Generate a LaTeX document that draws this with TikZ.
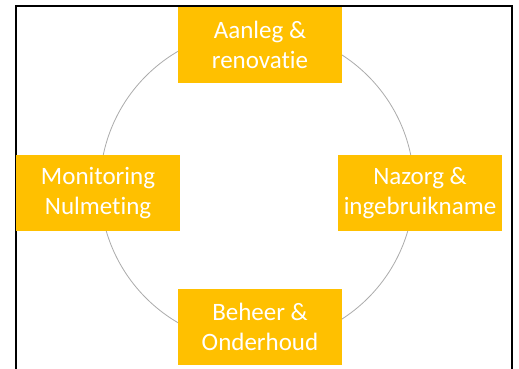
\documentclass[tikz,border=0pt]{standalone}
\usepackage{fontspec}
\setmainfont{Carlito}[Ligatures=NoCommon]
\usetikzlibrary{positioning}
\definecolor{phasegold}{HTML}{FFC000}
\definecolor{ringgray}{HTML}{ABABAB}

\begin{document}
\begin{tikzpicture}[x=1pt,y=-1pt,
    phase/.style={fill=phasegold,text=white,minimum width=164pt,minimum height=76pt,
      inner sep=0pt,align=center,font=\fontsize{25}{30}\selectfont}]
  \useasboundingbox (0,0) rectangle (519,369);
  % frame
  \draw[line width=1.6pt] (16,6) rectangle (512,400);
  % cycle
  \coordinate (hub) at (257,187);
  \draw[ringgray,line width=0.8pt] (hub) circle [radius=157pt];
  % phases
  \node[phase] (aanleg) at (260,45) {Aanleg \&\\renovatie};
  \node[phase] (nazorg) at (420,193) {Nazorg \&\\ingebruikname};
  \node[phase] (beheer) at (260,326.5) {Beheer \&\\Onderhoud};
  \node[phase] (monitoring) at (98,193) {Monitoring\\Nulmeting};
\end{tikzpicture}
\end{document}
